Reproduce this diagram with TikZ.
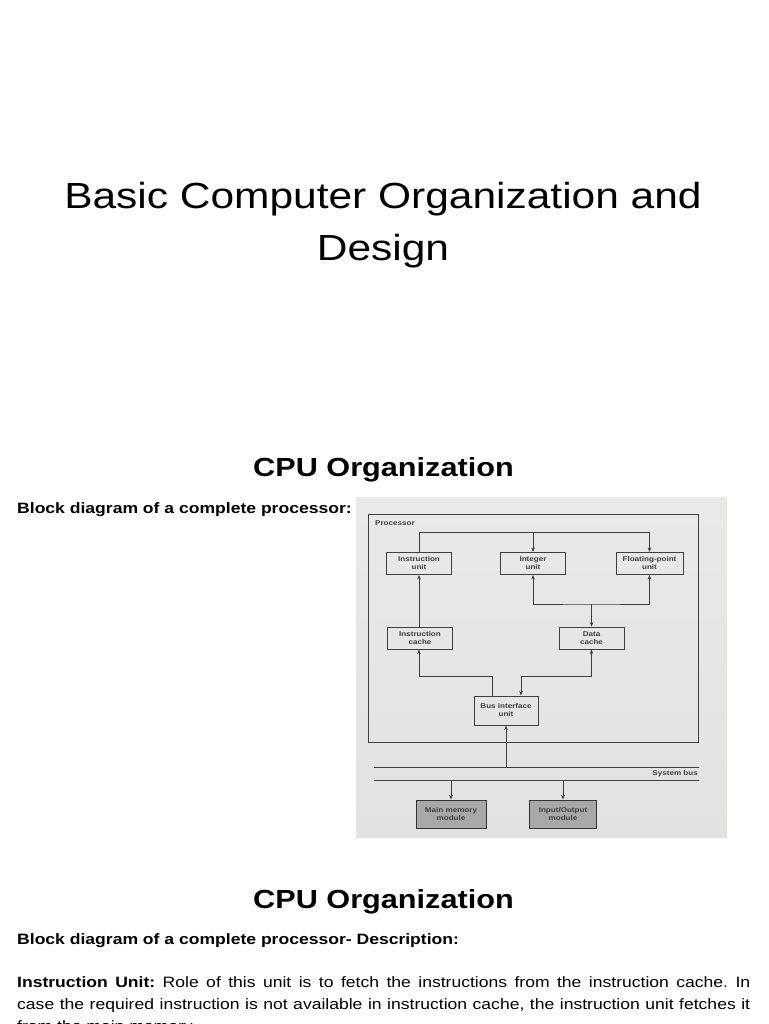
\documentclass[tikz,border=0pt]{standalone}
\usepackage{fontspec}
\setmainfont{Liberation Sans}
\newfontfamily\pagefont[FakeStretch=1.17]{Liberation Sans}
\usetikzlibrary{arrows.meta}
\definecolor{photobg}{RGB}{233,233,231}
\definecolor{photobgb}{RGB}{226,226,224}
\definecolor{inkc}{RGB}{62,62,62}
\definecolor{modfill}{RGB}{168,168,166}
\frenchspacing
\tikzset{
  unitbox/.style={draw=inkc, line width=0.9pt, minimum width=65pt, minimum height=22pt, inner sep=0pt, align=center, text=inkc, font=\pagefont\fontsize{6.9}{8}\selectfont\bfseries},
  modbox/.style={unitbox, fill=modfill, draw=black!80, line width=1pt, minimum height=28pt},
  wire/.style={draw=inkc, line width=0.9pt},
  arr/.style={wire, -{Stealth[length=4.5pt,width=3.6pt]}},
  biarr/.style={wire, {Stealth[length=4.5pt,width=3.6pt]}-{Stealth[length=4.5pt,width=3.6pt]}},
  smalllbl/.style={inner sep=0pt, text=inkc, font=\pagefont\fontsize{6.9}{8}\selectfont\bfseries},
  titletext/.style={inner sep=0pt, font=\pagefont\fontsize{36.3}{44}\selectfont},
  headtext/.style={inner sep=0pt, font=\pagefont\fontsize{26.2}{30}\selectfont\bfseries},
  bodytext/.style={inner sep=0pt, anchor=base west, font=\pagefont\fontsize{15}{22}\selectfont}
}
\begin{document}
\begin{tikzpicture}[x=1pt,y=-1pt]
\useasboundingbox (0,0) rectangle (768,1024);
\fill[white] (0,0) rectangle (768,1024);

% Title
\node[titletext, anchor=base] (t1) at (383,209) {Basic Computer Organization and};
\node[titletext, anchor=base] (t2) at (383,260) {Design};

% First section
\node[headtext, anchor=base] (h1) at (383.5,476) {CPU Organization};
\node[bodytext] (b1) at (17,513) {\bfseries Block diagram of a complete processor:};

% Photo of the diagram
\shade[top color=photobg, bottom color=photobgb] (356,497) rectangle (727,837);

\node[draw=inkc, line width=0.9pt, minimum width=330pt, minimum height=228pt, inner sep=0pt] (proc) at (533,628) {};
\node[smalllbl, anchor=west] (plbl) at (375,523) {Processor};

\node[unitbox] (iu) at (419,563.5) {Instruction\\unit};
\node[unitbox] (intu) at (533,563.5) {Integer\\unit};
\node[unitbox, minimum width=67pt] (fpu) at (649.5,563.5) {Floating-point\\unit};
\node[unitbox] (ic) at (420,638) {Instruction\\cache};
\node[unitbox] (dc) at (591.5,638) {Data\\cache};
\node[unitbox, minimum width=64pt, minimum height=29pt] (biu) at (506,710.5) {Bus interface\\unit};
\node[modbox, minimum width=70pt] (mm) at (451,814) {Main memory\\module};
\node[modbox, minimum width=67pt] (io) at (563,814) {Input/Output\\module};

% top internal bus
\coordinate (tl) at (419,532);
\coordinate (tr) at (649.5,532);
\draw[wire] (iu.north) -- (tl) -- (tr);
\draw[arr] (tr) -- (fpu.north);
\draw[arr] (intu.north |- tl) -- (intu.north);

% instruction cache to instruction unit
\draw[arr] (ic.north -| iu.south) -- (iu.south);

% data cache to integer / floating point units
\coordinate (dj) at (591.5,604);
\draw[biarr] (intu.south) |- (dj) -| (fpu.south);
\draw[arr] (dj) -- (dc.north);

% bus interface connections
\coordinate (lk) at (492,676);
\coordinate (rk) at (521,676);
\draw[arr] (biu.north -| lk) -- (lk) -| (ic.south -| iu.south);
\draw[biarr] (dc.south) |- (rk) -- (biu.north -| rk);

% system bus
\coordinate (b1l) at (374,767);
\coordinate (b1r) at (699,767);
\coordinate (b2l) at (374,780);
\coordinate (b2r) at (699,780);
\draw[wire] (b1l) -- (b1r);
\draw[wire] (b2l) -- (b2r);
\node[smalllbl, anchor=east] (sbus) at (698,774) {System bus};
\draw[arr] (biu.south |- b1l) -- (biu.south);
\draw[arr] (mm.north |- b2l) -- (mm.north);
\draw[arr] (io.north |- b2l) -- (io.north);

% Second section
\node[headtext, anchor=base] (h2) at (383.5,908) {CPU Organization};
\node[bodytext] (b2) at (17,944) {\bfseries Block diagram of a complete processor- Description:};
\node[bodytext] (p1) at (17,987) {\makebox[733pt][s]{\bfseries Instruction Unit:\mdseries\ Role of this unit is to fetch the instructions from the instruction cache. In}};
\node[bodytext] (p2) at (17,1009) {\makebox[733pt][s]{case the required instruction is not available in instruction cache, the instruction unit fetches it}};
\node[bodytext] (p3) at (17,1031) {from the main memory.};
\end{tikzpicture}
\end{document}
